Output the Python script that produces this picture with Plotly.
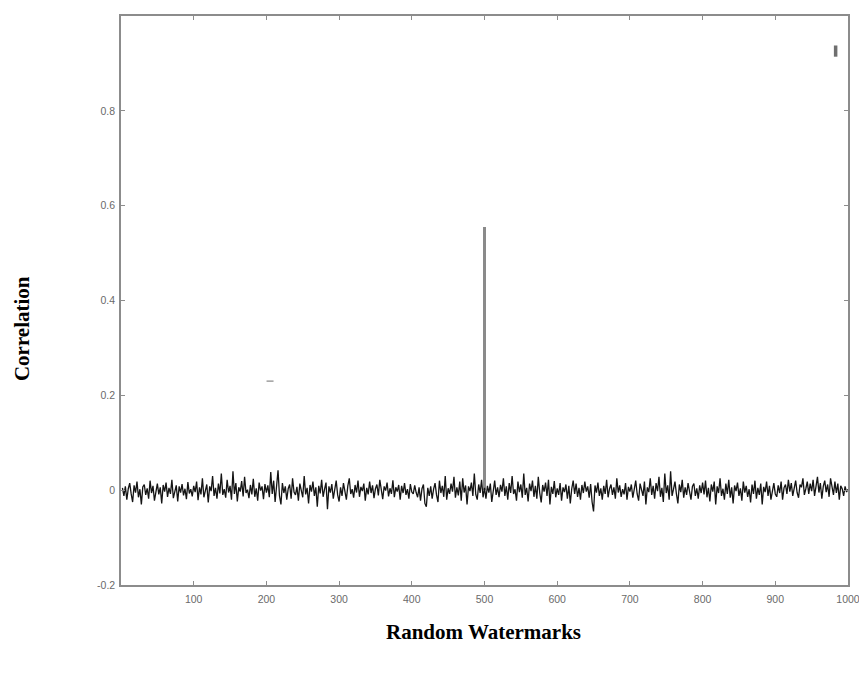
import plotly.graph_objects as go

# Correlation of the image with 1000 random watermarks (values in thousandths, every 2nd watermark)
noise_milli = [
    5,-12,8,-20,3,15,-8,-25,10,-5,18,-15,2,-30,7,12,-10,4,-18,20,-6,9,-22,1,14,-9,6,-28,11,-3,16,-14,5,-8,22,-17,0,10,-24,8,-5,13,-11,3,-19,17,-7,2,-13,9,
    -4,18,-21,6,-9,25,-15,3,12,-26,8,-2,30,-12,5,-18,14,-7,35,-10,2,-16,22,-5,9,-20,40,-8,15,-24,6,-3,19,-13,28,-6,1,-17,11,-9,24,-14,4,-22,16,-1,8,-19,13,-5,
    10,-15,38,-8,20,-25,5,42,-12,-30,15,-6,8,-20,3,12,-18,25,-4,-10,7,-22,14,0,-15,30,-9,5,-28,11,-3,18,-12,6,-35,9,-7,22,-14,2,16,-40,8,-5,13,-18,4,20,-10,-24,
    6,-12,15,-3,-20,9,25,-8,2,-16,11,-5,20,-14,7,-2,14,-22,5,-9,18,-6,10,-17,3,12,-11,22,-4,-19,8,-1,16,-13,4,-8,21,-15,6,-3,11,-20,9,-6,15,-10,2,-18,13,-4,
    -8,10,-5,-15,6,-22,3,12,-28,-35,5,-12,8,-18,2,15,-10,-25,20,-6,9,-14,30,-20,4,-8,14,-3,28,-16,6,-11,18,-22,25,-5,10,-30,8,-2,16,-12,35,-9,-20,12,-6,22,-15,5,
    -18,9,-5,14,-25,3,20,-10,6,-15,11,-3,25,-12,8,-20,15,-6,30,-8,2,-22,18,-4,12,-16,35,-10,5,-24,14,-2,20,-14,9,-18,28,-6,-26,11,-3,16,-12,22,-30,7,-8,19,-15,4,
    -10,15,-22,6,-4,12,-18,9,-28,3,20,-8,14,-14,5,-20,11,-6,18,-3,8,-16,13,-25,-45,10,-5,16,-12,4,-20,9,-8,22,-15,3,12,-10,6,-18,25,-5,10,-14,2,-9,15,-20,7,-3,
    12,-16,5,20,-8,-22,14,3,-12,18,-30,6,-4,25,-10,9,-18,15,-2,28,-14,5,-25,35,-6,10,-20,40,-12,2,18,-8,-28,12,-4,22,-16,6,-10,15,-3,-20,8,14,-12,4,-18,10,-6,16,
    -9,20,-15,5,-24,12,-3,18,-30,8,-6,25,-12,3,-20,14,-8,22,-16,6,-28,10,-2,16,-12,4,-22,18,-5,9,-14,2,-26,12,-8,20,-18,5,-10,14,-30,7,-4,18,-12,9,-20,3,15,-8,
    -14,10,-6,18,-20,5,12,-8,22,-3,15,-12,8,20,-5,-16,12,6,25,-10,3,18,-8,14,-2,22,-12,10,28,-5,15,-18,8,20,-4,12,-14,25,5,-10,18,-6,14,-20,9,3,-12,8,-4,2,
]
watermark_step = 2
watermarks = [watermark_step * (i + 1) for i in range(len(noise_milli))]
correlation = [v / 1000 for v in noise_milli]

# The embedded (true) watermark
true_watermark = [500]
true_correlation = [0.555]

# Scan specks visible in the original figure
speck_x = [983, 205]
speck_y = [0.926, 0.23]

x_ticks = [100, 200, 300, 400, 500, 600, 700, 800, 900, 1000]
y_ticks = [-0.2, 0, 0.2, 0.4, 0.6, 0.8]
y_tick_labels = ["-0.2", "0", "0.2", "0.4", "0.6", "0.8"]

fig = go.Figure()
fig.add_trace(go.Scatter(
    x=watermarks, y=correlation, mode="lines",
    line=dict(color="#141414", width=1.3), showlegend=False,
))
fig.add_trace(go.Bar(
    x=true_watermark, y=true_correlation, width=4,
    marker=dict(color="#8a8a8a", line=dict(width=0)), showlegend=False,
))
fig.add_trace(go.Scatter(
    x=speck_x, y=speck_y, mode="markers",
    marker=dict(symbol=["line-ns", "line-ew"], size=[8, 5],
                line=dict(color=["#333333", "#555555"], width=[3.5, 1.2])),
    showlegend=False,
))

axis_common = dict(
    showline=True, linecolor="#8c8c8c", linewidth=1.5, mirror="ticks",
    ticks="inside", ticklen=4, tickcolor="#8c8c8c", tickwidth=1,
    showgrid=False, zeroline=False, ticklabeloverflow="allow",
    tickfont=dict(family="Liberation Sans", size=10.5, color="#6a6a6a"),
)

fig.update_layout(
    width=859, height=665,
    margin=dict(l=113, r=19, t=6, b=88),
    plot_bgcolor="white", paper_bgcolor="white",
    xaxis=dict(range=[0, 1000], tickvals=x_ticks, ticklabelstandoff=4, **axis_common),
    yaxis=dict(range=[-0.2, 1.0], tickvals=y_ticks, ticktext=y_tick_labels,
               ticklabelstandoff=2, **axis_common),
    annotations=[
        dict(text="<b>Correlation</b>", textangle=-90, xref="paper", yref="paper",
             x=-0.136, y=0.45, xanchor="center", yanchor="middle", showarrow=False,
             font=dict(family="Liberation Serif", size=21, color="black")),
        dict(text="<b>Random Watermarks</b>", xref="paper", yref="paper",
             x=0.499, y=-0.082, xanchor="center", yanchor="middle", showarrow=False,
             font=dict(family="Liberation Serif", size=21, color="black")),
    ],
    bargap=0,
)

fig.write_html("out.html")
